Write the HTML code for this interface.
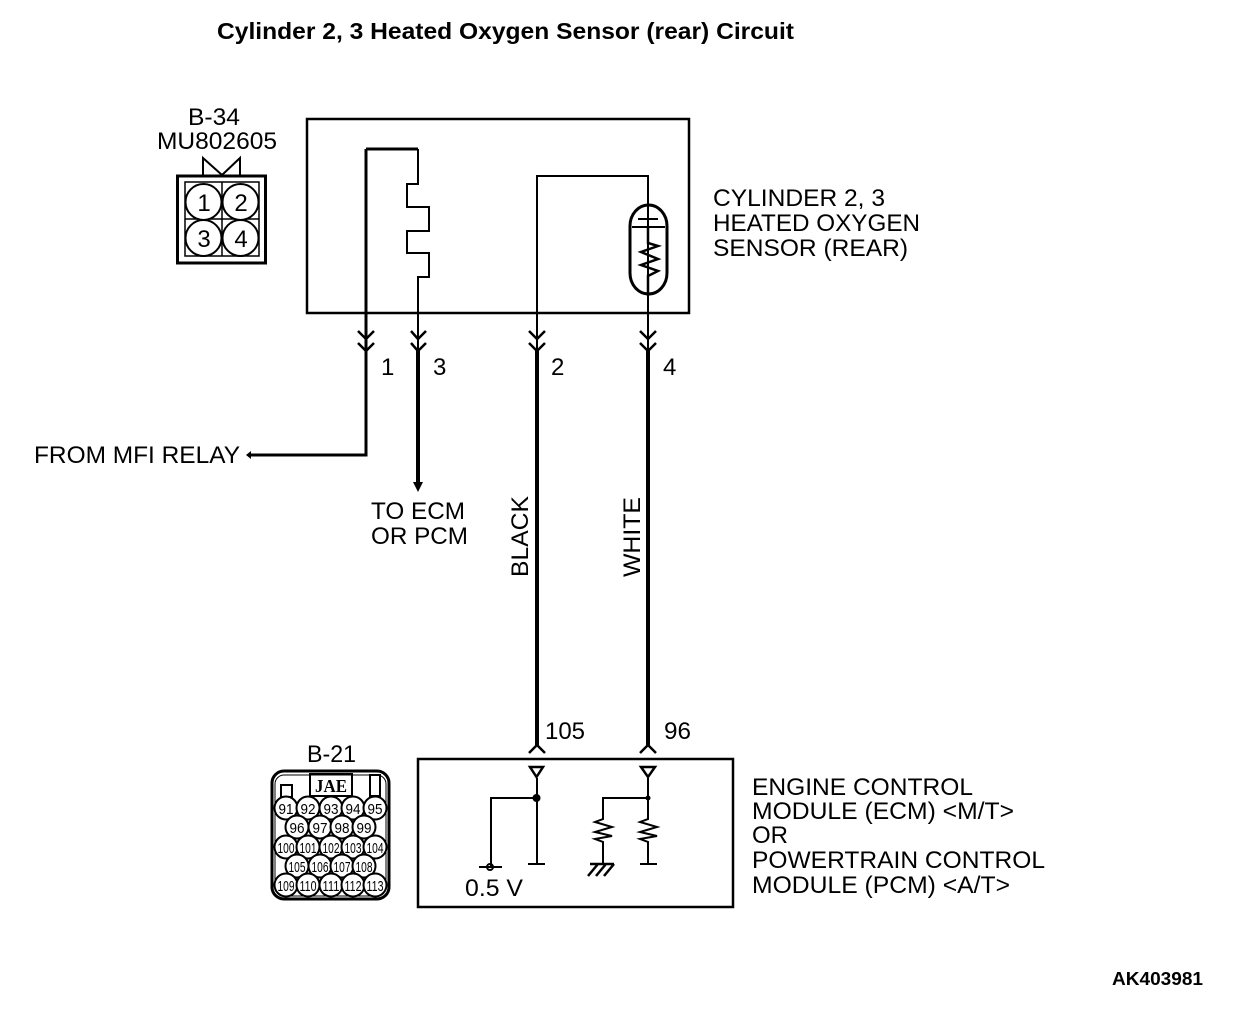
<!DOCTYPE html>
<html><head><meta charset="utf-8"><style>
html,body{margin:0;padding:0;background:#fff;width:1248px;height:1012px;overflow:hidden}
svg{display:block}
text{font-family:"Liberation Sans",sans-serif;fill:#000;font-size:24px}
.p{font-size:15px}
</style></head><body>
<svg width="1248" height="1012" viewBox="0 0 1248 1012" xmlns="http://www.w3.org/2000/svg">
<g fill="none" stroke="#000" stroke-width="2">
<!-- main box -->
<rect x="307" y="119" width="382" height="194" stroke-width="2.500"/>
<!-- wire 1/3 heater -->
<path d="M418 350V277H429V253H407V231H429V207H407V184H418V149" />
<path d="M366 149H418" stroke-width="3"/>
<path d="M366 149V350" stroke-width="3"/>
<!-- wire 2/4 -->
<path d="M537 350V176H648V350"/>
<!-- sensor -->
<path d="M630 226A18.500 21 0 0 1 667 226V273A18.500 21 0 0 1 630 273Z" stroke-width="3"/>
<path d="M638 219H658" stroke-width="2"/>
<path d="M632 227H665" stroke-width="2"/>
<path d="M648 227V243L658 246L641 252L658 259L641 265L658 271L648 276V296" stroke-width="2.500"/>
<!-- chevrons -->
<path d="M358 331L366 339L374 331M358 343L366 351L374 343" stroke-width="2.500"/>
<path d="M411 331L418 339L426 331M411 343L418 351L426 343" stroke-width="2.500"/>
<path d="M529 331L537 339L545 331M529 343L537 351L545 343" stroke-width="2.500"/>
<path d="M640 331L648 339L656 331M640 343L648 351L656 343" stroke-width="2.500"/>
<!-- thick wires -->
<path d="M366 350V455H248" stroke-width="3"/>
<path d="M418 350V482" stroke-width="4"/>
<path d="M537 350V746" stroke-width="4"/>
<path d="M648 350V746" stroke-width="4"/>
<path d="M529 753L537 745L545 753M640 753L648 745L656 753" stroke-width="2.500"/>
<!-- ECM -->
<rect x="418" y="759" width="315" height="148" stroke-width="2.500"/>
<path d="M530 767H543L536.500 777Z" stroke-width="2.500"/>
<path d="M641 767H655L648 777Z" stroke-width="2.500"/>
<path d="M537 778V864M528 864H545" stroke-width="2"/>
<path d="M537 798H491V867M479 867H502" stroke-width="2"/>
<circle cx="490" cy="867" r="3" stroke-width="2"/>
<path d="M648 778V819L640 822L657 827L640 832L657 836L640 839L648 842V864M640 864H657" stroke-width="2"/>
<path d="M648 798H603V819L595 822L612 827L595 832L612 836L595 839L603 842V864" stroke-width="2"/>
<path d="M590 864H614M598 864L588 876M606 864L596 876M614 864L604 876" stroke-width="2.500"/>
<!-- B-34 connector -->
<rect x="177.500" y="176" width="88" height="87" stroke-width="3"/>
<rect x="185" y="182" width="74" height="74" stroke-width="1.500"/>
<path d="M222 182V256M185 219H259" stroke-width="1.500"/>
<path d="M203 175V158L222 175L240 158V175" stroke-width="2"/>
<g fill="#fff" stroke-width="2">
<circle cx="203.500" cy="202" r="18"/><circle cx="240.500" cy="202" r="18"/>
<circle cx="203.500" cy="238" r="18"/><circle cx="240.500" cy="238" r="18"/>
</g>
<!-- B-21 connector -->
<rect x="272" y="771" width="117" height="128" rx="12" stroke-width="3"/>
<rect x="275" y="775" width="111" height="121" rx="9" stroke-width="1"/>
<rect x="281" y="785" width="11" height="12"/>
<rect x="310" y="774" width="42" height="22"/>
<rect x="370" y="775" width="10" height="21"/>
<g fill="#fff" stroke-width="2">
<circle cx="286" cy="808" r="11.500"/><circle cx="308" cy="808" r="11.500"/><circle cx="331" cy="808" r="11.500"/><circle cx="353" cy="808" r="11.500"/><circle cx="375" cy="808" r="11.500"/>
<circle cx="297" cy="827" r="11.500"/><circle cx="320" cy="827" r="11.500"/><circle cx="342" cy="827" r="11.500"/><circle cx="364" cy="827" r="11.500"/>
<circle cx="286" cy="847" r="11.500"/><circle cx="308" cy="847" r="11.500"/><circle cx="331" cy="847" r="11.500"/><circle cx="353" cy="847" r="11.500"/><circle cx="375" cy="847" r="11.500"/>
<circle cx="297" cy="866" r="11.500"/><circle cx="320" cy="866" r="11.500"/><circle cx="342" cy="866" r="11.500"/><circle cx="364" cy="866" r="11.500"/>
<circle cx="286" cy="885" r="11.500"/><circle cx="308" cy="885" r="11.500"/><circle cx="331" cy="885" r="11.500"/><circle cx="353" cy="885" r="11.500"/><circle cx="375" cy="885" r="11.500"/>
</g>
</g>
<!-- filled -->
<circle cx="536.500" cy="798" r="4"/>
<circle cx="648" cy="798" r="2.500"/>
<path d="M246 455L251 451V459Z"/>
<path d="M413 482H423L418 492Z"/>
<!-- text -->
<text x="217" y="39" textLength="577" lengthAdjust="spacingAndGlyphs" style="font-weight:bold;font-size:23px">Cylinder 2, 3 Heated Oxygen Sensor (rear) Circuit</text>
<text x="188" y="125" textLength="52" lengthAdjust="spacingAndGlyphs">B-34</text>
<text x="157" y="149" textLength="120" lengthAdjust="spacingAndGlyphs">MU802605</text>
<text x="713" y="206" textLength="172" lengthAdjust="spacingAndGlyphs">CYLINDER 2, 3</text>
<text x="713" y="231" textLength="207" lengthAdjust="spacingAndGlyphs">HEATED OXYGEN</text>
<text x="713" y="256" textLength="195" lengthAdjust="spacingAndGlyphs">SENSOR (REAR)</text>
<g text-anchor="middle">
<text x="204" y="211">1</text><text x="241" y="211">2</text>
<text x="204" y="247">3</text><text x="241" y="247">4</text>
</g>
<text x="381" y="375">1</text>
<text x="433" y="375">3</text>
<text x="551" y="375">2</text>
<text x="663" y="375">4</text>
<text x="34" y="463" textLength="206" lengthAdjust="spacingAndGlyphs">FROM MFI RELAY</text>
<text x="371" y="519" textLength="94" lengthAdjust="spacingAndGlyphs">TO ECM</text>
<text x="371" y="544" textLength="97" lengthAdjust="spacingAndGlyphs">OR PCM</text>
<text transform="translate(528,577) rotate(-90)" textLength="81" lengthAdjust="spacingAndGlyphs">BLACK</text>
<text transform="translate(640,577) rotate(-90)" textLength="80" lengthAdjust="spacingAndGlyphs">WHITE</text>
<text x="545" y="739" textLength="40" lengthAdjust="spacingAndGlyphs">105</text>
<text x="664" y="739" textLength="27" lengthAdjust="spacingAndGlyphs">96</text>
<text x="307" y="762" textLength="49" lengthAdjust="spacingAndGlyphs">B-21</text>
<text x="465" y="896" textLength="58" lengthAdjust="spacingAndGlyphs">0.5 V</text>
<text x="752" y="795" textLength="221" lengthAdjust="spacingAndGlyphs">ENGINE CONTROL</text>
<text x="752" y="819" textLength="262" lengthAdjust="spacingAndGlyphs">MODULE (ECM) &lt;M/T&gt;</text>
<text x="752" y="843" textLength="36" lengthAdjust="spacingAndGlyphs">OR</text>
<text x="752" y="868" textLength="293" lengthAdjust="spacingAndGlyphs">POWERTRAIN CONTROL</text>
<text x="752" y="893" textLength="258" lengthAdjust="spacingAndGlyphs">MODULE (PCM) &lt;A/T&gt;</text>
<text x="1112" y="985" textLength="91" lengthAdjust="spacingAndGlyphs" style="font-weight:bold;font-size:18px">AK403981</text>
<text x="331" y="792" textLength="32" text-anchor="middle" lengthAdjust="spacingAndGlyphs" style="font-family:'Liberation Serif',serif;font-weight:bold;font-size:18px">JAE</text>
<g text-anchor="middle">
<text class="p" x="286" y="814" textLength="15" lengthAdjust="spacingAndGlyphs">91</text><text class="p" x="308" y="814" textLength="15" lengthAdjust="spacingAndGlyphs">92</text><text class="p" x="331" y="814" textLength="15" lengthAdjust="spacingAndGlyphs">93</text><text class="p" x="353" y="814" textLength="15" lengthAdjust="spacingAndGlyphs">94</text><text class="p" x="375" y="814" textLength="15" lengthAdjust="spacingAndGlyphs">95</text>
<text class="p" x="297" y="833" textLength="15" lengthAdjust="spacingAndGlyphs">96</text><text class="p" x="320" y="833" textLength="15" lengthAdjust="spacingAndGlyphs">97</text><text class="p" x="342" y="833" textLength="15" lengthAdjust="spacingAndGlyphs">98</text><text class="p" x="364" y="833" textLength="15" lengthAdjust="spacingAndGlyphs">99</text>
<text class="p" x="286" y="853" textLength="17" lengthAdjust="spacingAndGlyphs">100</text><text class="p" x="308" y="853" textLength="17" lengthAdjust="spacingAndGlyphs">101</text><text class="p" x="331" y="853" textLength="17" lengthAdjust="spacingAndGlyphs">102</text><text class="p" x="353" y="853" textLength="17" lengthAdjust="spacingAndGlyphs">103</text><text class="p" x="375" y="853" textLength="17" lengthAdjust="spacingAndGlyphs">104</text>
<text class="p" x="297" y="872" textLength="17" lengthAdjust="spacingAndGlyphs">105</text><text class="p" x="320" y="872" textLength="17" lengthAdjust="spacingAndGlyphs">106</text><text class="p" x="342" y="872" textLength="17" lengthAdjust="spacingAndGlyphs">107</text><text class="p" x="364" y="872" textLength="17" lengthAdjust="spacingAndGlyphs">108</text>
<text class="p" x="286" y="891" textLength="17" lengthAdjust="spacingAndGlyphs">109</text><text class="p" x="308" y="891" textLength="17" lengthAdjust="spacingAndGlyphs">110</text><text class="p" x="331" y="891" textLength="17" lengthAdjust="spacingAndGlyphs">111</text><text class="p" x="353" y="891" textLength="17" lengthAdjust="spacingAndGlyphs">112</text><text class="p" x="375" y="891" textLength="17" lengthAdjust="spacingAndGlyphs">113</text>
</g>
</svg>
</body></html>
